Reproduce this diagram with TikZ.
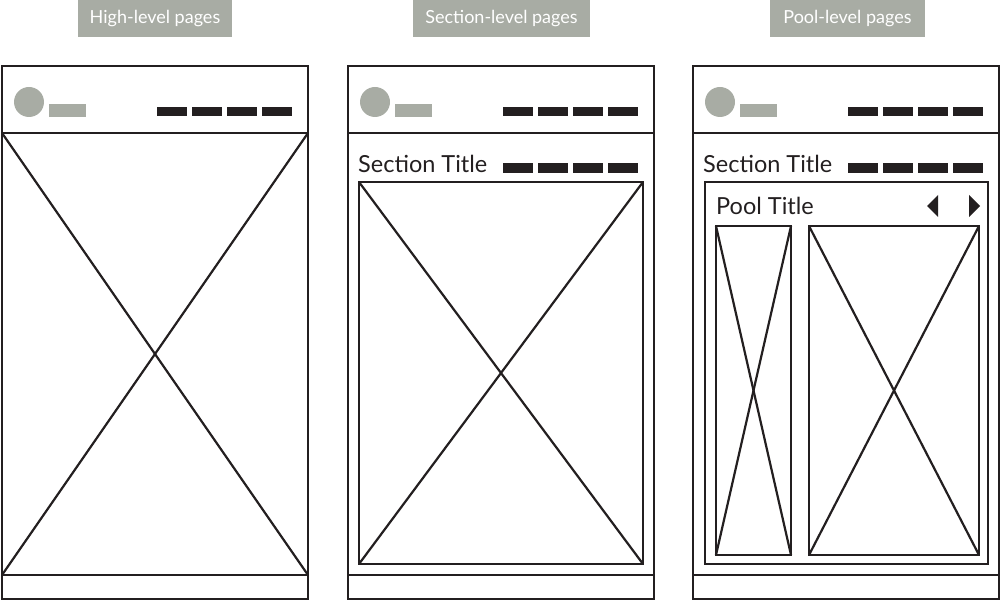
\documentclass[tikz,border=0pt]{standalone}
\usepackage{fontspec}
\setmainfont{Lato}
\usepackage{xcolor}
\usepackage{tikz}
\usetikzlibrary{positioning}

\definecolor{wfgray}{HTML}{A8ACA4}
\definecolor{wfdark}{HTML}{231F20}

\begin{document}
\begin{tikzpicture}[x=1pt,y=-1pt,
	frame/.style={draw=wfdark,line width=2.4pt},
	cross/.style={draw=wfdark,line width=2.2pt},
	bar/.style={fill=wfdark},
	tag/.style={fill=wfgray,text=white,inner sep=0pt,minimum height=37pt,font=\fontsize{18}{20}\selectfont},
	title/.style={anchor=base west,inner sep=0pt,text=wfdark,font=\fontsize{23.5}{26}\selectfont}]
	\useasboundingbox (0,0) rectangle (1001,601);

	% \draw level tags
	\node[tag,minimum width=154pt] (highTag) at (155,18.5) {High-level pages};
	\node[tag,minimum width=177pt] (sectionTag) at (501.5,18.5) {Section-level pages};
	\node[tag,minimum width=155pt] (poolTag) at (847.5,18.5) {Pool-level pages};

	% \draw page frames with header and footer
	\foreach \px in {2,348,693} {
	  \draw[frame] (\px,66) rectangle (\px+306,599);
	  \draw[frame] (\px,133) -- (\px+306,133);
	  \draw[frame] (\px,575) -- (\px+306,575);
	  \fill[wfgray] (\px+27,102) circle (15);
	  \fill[wfgray] (\px+47,104) rectangle (\px+84,117);
	  \foreach \k in {0,...,3} {
	    \fill[bar] (\px+155+35*\k,107) rectangle (\px+185+35*\k,116);
	  }
	}

	% \draw high-level content
	\coordinate (H1) at (2,133);
	\coordinate (H2) at (308,575);
	\draw[cross] (H1) rectangle (H2);
	\draw[cross] (H1) -- (H2);
	\draw[cross] (H1 -| H2) -- (H2 -| H1);

	% \draw section titles and bars
	\foreach \px in {348,693} {
	  \node[title] at (\px+10,173) {Section Title};
	  \foreach \k in {0,...,3} {
	    \fill[bar] (\px+155+35*\k,163) rectangle (\px+185+35*\k,173);
	  }
	}

	% \draw section-level content
	\coordinate (S1) at (359,182);
	\coordinate (S2) at (643,564);
	\draw[frame] (S1) rectangle (S2);
	\draw[cross] (S1) -- (S2);
	\draw[cross] (S1 -| S2) -- (S2 -| S1);

	% \draw pool box
	\draw[frame] (705,182) rectangle (988,564);
	\node[title] (poolTitle) at (716,215) {Pool Title};
	\fill[wfdark] (938,195) -- (938,217) -- (927,206) -- cycle;
	\fill[wfdark] (969,195) -- (969,217) -- (980,206) -- cycle;

	% \draw pool items
	\coordinate (P1) at (716,226);
	\coordinate (P2) at (791,555);
	\coordinate (P3) at (809,226);
	\coordinate (P4) at (979,555);
	\draw[frame] (P1) rectangle (P2);
	\draw[cross] (P1) -- (P2);
	\draw[cross] (P1 -| P2) -- (P2 -| P1);
	\draw[frame] (P3) rectangle (P4);
	\draw[cross] (P3) -- (P4);
	\draw[cross] (P3 -| P4) -- (P4 -| P3);
\end{tikzpicture}
\end{document}
